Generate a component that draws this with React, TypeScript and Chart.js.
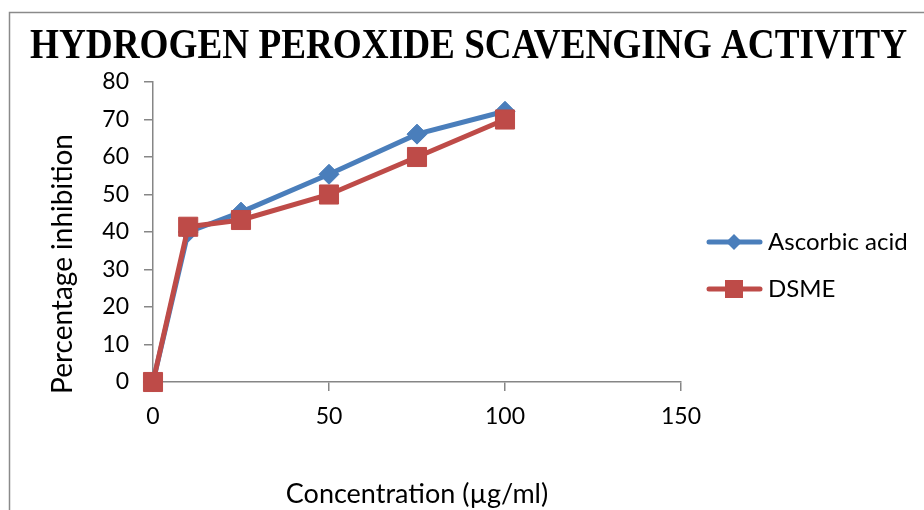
import React, { useEffect, useRef } from "react";
import { Chart, registerables } from "chart.js";

Chart.register(...registerables);

const concentrations = [0, 10, 25, 50, 75, 100];
const ascorbicAcid = [0, 40, 45.3, 55.4, 66.1, 72.2];
const dsme = [0, 41.4, 43.2, 50, 60, 70];
const seriesNames = ["Ascorbic acid", "DSME"];
const titleText = "HYDROGEN PEROXIDE SCAVENGING ACTIVITY";
const xTitle = "Concentration (µg/ml)";
const yTitle = "Percentage inhibition";

const BLUE = "#4A7EBB";
const RED = "#BE4B48";
const AXIS = "#868686";
const FONT = "Lato, 'Open Sans', sans-serif";

const decorPlugin = {
  id: "decor",
  beforeDraw(chart: any) {
    const ctx = chart.ctx;
    ctx.save();
    ctx.fillStyle = "#fff";
    ctx.fillRect(0, 0, chart.width, chart.height);
    ctx.strokeStyle = "#8a8a8a";
    ctx.lineWidth = 1.5;
    ctx.beginPath();
    ctx.moveTo(9.5, chart.height + 5);
    ctx.lineTo(9.5, 12.5);
    ctx.lineTo(chart.width + 5, 12.5);
    ctx.stroke();
    ctx.restore();
  },
  afterDraw(chart: any) {
    const ctx = chart.ctx;
    ctx.save();
    // Title
    ctx.font = "bold 42px 'Liberation Serif', 'Times New Roman', serif";
    ctx.fillStyle = "#000";
    ctx.textBaseline = "alphabetic";
    ctx.textAlign = "left";
    const w = ctx.measureText(titleText).width;
    const sx = 877 / w;
    ctx.translate(30, 58);
    ctx.scale(sx, 1);
    ctx.fillText(titleText, 0, 0);
    ctx.setTransform(1, 0, 0, 1, 0, 0);
    // Y title
    ctx.font = `28px ${FONT}`;
    ctx.fillStyle = "#000";
    ctx.textAlign = "center";
    ctx.textBaseline = "middle";
    ctx.translate(63, 264);
    ctx.rotate(-Math.PI / 2);
    ctx.fillText(yTitle, 0, 0);
    ctx.setTransform(1, 0, 0, 1, 0, 0);
    // Legend
    const ds = chart.data.datasets;
    const rows = [242, 289];
    ds.forEach((d: any, i: number) => {
      const y = rows[i];
      ctx.strokeStyle = d.borderColor;
      ctx.lineWidth = d.borderWidth;
      ctx.lineCap = "round";
      ctx.beginPath();
      ctx.moveTo(709, y);
      ctx.lineTo(760, y);
      ctx.stroke();
      ctx.fillStyle = d.backgroundColor;
      ctx.beginPath();
      if (d.pointStyle === "rectRot") {
        const r = 8;
        ctx.moveTo(734, y - r);
        ctx.lineTo(734 + r, y);
        ctx.lineTo(734, y + r);
        ctx.lineTo(734 - r, y);
        ctx.closePath();
      } else {
        ctx.rect(734 - 9, y - 9, 18, 18);
      }
      ctx.fill();
      ctx.fillStyle = "#000";
      ctx.font = `24px ${FONT}`;
      ctx.textAlign = "left";
      ctx.textBaseline = "middle";
      ctx.fillText(d.label, 768, y);
    });
    ctx.restore();
  },
};

export default function App() {
  const ref = useRef<HTMLCanvasElement>(null);
  useEffect(() => {
    document.body.style.margin = "0";
    const chart = new Chart(ref.current!, {
      type: "line",
      data: {
        datasets: [
          {
            label: seriesNames[0],
            data: concentrations.map((x, i) => ({ x, y: ascorbicAcid[i] })),
            borderColor: BLUE,
            backgroundColor: BLUE,
            borderWidth: 5,
            pointStyle: "rectRot",
            pointRadius: 10,
            pointBorderWidth: 1,
            clip: false,
            order: 2,
          },
          {
            label: seriesNames[1],
            data: concentrations.map((x, i) => ({ x, y: dsme[i] })),
            borderColor: RED,
            backgroundColor: RED,
            borderWidth: 5,
            pointStyle: "rect",
            pointRadius: 13.5,
            pointBorderWidth: 1,
            clip: false,
            order: 1,
          },
        ],
      },
      options: {
        animation: false,
        responsive: false,
        layout: { padding: { left: 49, right: 243, top: 82, bottom: 0 } },
        plugins: {
          legend: { display: false },
          title: { display: false },
          tooltip: { enabled: false },
        },
        scales: {
          x: {
            type: "linear",
            min: 0,
            max: 150,
            ticks: { stepSize: 50, padding: 12, color: "#000", font: { family: FONT, size: 23 } },
            grid: { drawOnChartArea: false, drawTicks: true, tickLength: 9, color: AXIS, lineWidth: 1.5 },
            border: { color: AXIS, width: 1.5 },
            title: {
              display: true,
              text: xTitle,
              color: "#000",
              font: { family: FONT, size: 27 },
              padding: { top: 0, bottom: 0 },
            },
            afterFit(scale: any) {
              scale.height = 128;
            },
          },
          y: {
            type: "linear",
            min: 0,
            max: 80,
            ticks: { stepSize: 10, padding: 15, color: "#000", font: { family: FONT, size: 23 } },
            grid: { drawOnChartArea: false, drawTicks: true, tickLength: 9, color: AXIS, lineWidth: 1.5 },
            border: { color: AXIS, width: 1.5 },
            afterFit(scale: any) {
              scale.width = 104;
            },
          },
        },
      },
      plugins: [decorPlugin],
    } as any);
    return () => chart.destroy();
  }, []);
  return (
    <div style={{ width: 924, height: 510 }}>
      <canvas ref={ref} width={924} height={510} />
    </div>
  );
}
